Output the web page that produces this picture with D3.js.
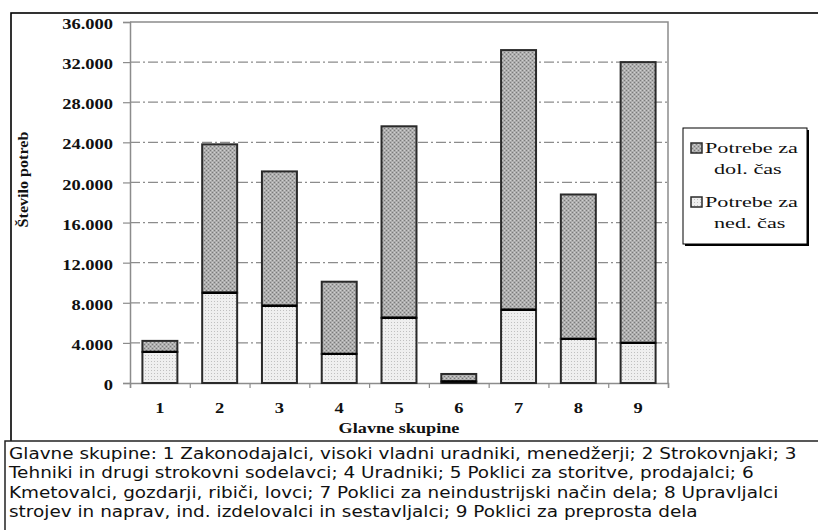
<!DOCTYPE html>
<html>
<head>
<meta charset="utf-8">
<script src="https://cdn.jsdelivr.net/npm/d3@7"></script>
<style>
  html, body { margin: 0; padding: 0; background: #fff; }
  svg { display: block; }
  .serif { font-family: "Liberation Serif", "Times New Roman", Times, serif; }
  .sans { font-family: "DejaVu Sans", Verdana, sans-serif; }
</style>
</head>
<body>
<svg id="chart" width="818" height="530"></svg>
<script>
// ---------- data ----------
const categories = ["1", "2", "3", "4", "5", "6", "7", "8", "9"];
const partTime = [3100, 9000, 7700, 2900, 6500, 150, 7300, 4400, 4000];      // Potrebe za ned. čas
const fullTime = [1100, 14800, 13400, 7200, 19100, 750, 25900, 14400, 28000]; // Potrebe za dol. čas
const yTicks = [0, 4000, 8000, 12000, 16000, 20000, 24000, 28000, 32000, 36000];
const yTickLabels = ["0", "4.000", "8.000", "12.000", "16.000", "20.000", "24.000", "28.000", "32.000", "36.000"];
const seriesNames = [["Potrebe za", "dol. čas"], ["Potrebe za", "ned. čas"]];
const xTitle = "Glavne skupine";
const yTitle = "Število potreb";
const noteLines = [
  "Glavne skupine: 1 Zakonodajalci, visoki vladni uradniki, menedžerji; 2 Strokovnjaki; 3",
  "Tehniki in drugi strokovni sodelavci; 4 Uradniki; 5 Poklici za storitve, prodajalci; 6",
  "Kmetovalci, gozdarji, ribiči, lovci; 7 Poklici za neindustrijski način dela; 8 Upravljalci",
  "strojev in naprav, ind. izdelovalci in sestavljalci; 9 Poklici za preprosta dela"
];

// ---------- layout ----------
const svg = d3.select("#chart");
const plot = { left: 130, right: 668, top: 22, bottom: 383 };

function stretchX(node, k) {
  const x = +node.getAttribute("x") || 0;
  node.setAttribute("transform", `translate(${x},0) scale(${k},1) translate(${-x},0)`);
}

// patterns
const defs = svg.append("defs");
const pd = defs.append("pattern").attr("id", "pDark").attr("patternUnits", "userSpaceOnUse")
  .attr("width", 4).attr("height", 4);
pd.append("rect").attr("width", 4).attr("height", 4).attr("fill", "#adadad");
[[0,0],[2,2]].forEach(([x,y]) => pd.append("rect").attr("x", x).attr("y", y).attr("width", 1).attr("height", 1).attr("fill", "#7a7a7a"));
[[2,0],[0,2]].forEach(([x,y]) => pd.append("rect").attr("x", x).attr("y", y).attr("width", 1).attr("height", 1).attr("fill", "#cfcfcf"));
const pl = defs.append("pattern").attr("id", "pLight").attr("patternUnits", "userSpaceOnUse")
  .attr("width", 3).attr("height", 3);
pl.append("rect").attr("width", 3).attr("height", 3).attr("fill", "#efefef");
pl.append("rect").attr("x", 1).attr("y", 1).attr("width", 1).attr("height", 1).attr("fill", "#c0c0c0");

// outer frame
svg.append("rect").attr("x", 11).attr("y", 13).attr("width", 830).attr("height", 440)
  .attr("fill", "#fff").attr("stroke", "#000").attr("stroke-width", 1.6);

// scales
const x = d3.scaleBand().domain(categories).range([plot.left, plot.right]).paddingInner(0.415).paddingOuter(0.2075);
const xLin = d3.scaleLinear().domain([0, categories.length]).range([plot.left, plot.right]);
const y = d3.scaleLinear().domain([0, 36000]).range([plot.bottom, plot.top]);

// gridlines
svg.append("g").selectAll("line").data(yTicks.filter(t => t > 0 && t < 36000)).join("line")
  .attr("x1", plot.left).attr("x2", plot.right)
  .attr("y1", d => y(d)).attr("y2", d => y(d))
  .attr("stroke", "#8c8c8c").attr("stroke-width", 1.2).attr("stroke-dasharray", "10,3,2,3");

// plot border (top, right)
svg.append("path")
  .attr("d", `M${plot.left},${plot.top}H${plot.right}V${plot.bottom}`)
  .attr("fill", "none").attr("stroke", "#8c8c8c").attr("stroke-width", 1.5);

// y axis
const yAxis = svg.append("g").attr("transform", `translate(${plot.left},0)`)
  .call(d3.axisLeft(y).tickValues(yTicks).tickSize(7).tickPadding(10)
    .tickFormat((d, i) => yTickLabels[i]));
yAxis.attr("font-family", null).attr("font-size", null);
yAxis.select(".domain").attr("stroke", "#8c8c8c").attr("stroke-width", 1.5);
yAxis.selectAll(".tick line").attr("stroke", "#8c8c8c").attr("stroke-width", 1.2);
yAxis.selectAll(".tick text")
  .attr("class", "serif")
  .style("font-weight", "bold").style("font-size", "14px")
  .attr("fill", "#111").attr("dy", "0.47em")
  .each(function () { stretchX(this, 1.32); });

// x axis: boundary ticks
const xAxis = svg.append("g").attr("transform", `translate(0,${plot.bottom})`)
  .call(d3.axisBottom(xLin).tickValues(d3.range(0, categories.length + 1)).tickSize(5).tickFormat(""));
xAxis.select(".domain").attr("stroke", "#8c8c8c").attr("stroke-width", 1.5);
xAxis.selectAll(".tick line").attr("stroke", "#8c8c8c").attr("stroke-width", 1.2);

// x labels
const xLab = svg.append("g").attr("transform", `translate(0,${plot.bottom})`)
  .call(d3.axisBottom(x).tickSize(0).tickPadding(30));
xLab.attr("font-family", null).attr("font-size", null);
xLab.select(".domain").remove();
xLab.selectAll(".tick text")
  .attr("class", "serif")
  .style("font-weight", "bold").style("font-size", "14px")
  .attr("fill", "#111").attr("dy", 0)
  .attr("transform", "scale(1.32,1)");

// bars
const bars = svg.append("g");
categories.forEach((c, i) => {
  const x0 = x(c), w = x.bandwidth();
  bars.append("rect").attr("x", x0).attr("width", w)
    .attr("y", y(partTime[i])).attr("height", y(0) - y(partTime[i]))
    .attr("fill", "url(#pLight)").attr("stroke", "#2a2a2a").attr("stroke-width", 2);
  bars.append("rect").attr("x", x0).attr("width", w)
    .attr("y", y(partTime[i] + fullTime[i])).attr("height", y(partTime[i]) - y(partTime[i] + fullTime[i]))
    .attr("fill", "url(#pDark)").attr("stroke", "#2a2a2a").attr("stroke-width", 2);
  bars.append("line").attr("x1", x0).attr("x2", x0 + w)
    .attr("y1", y(partTime[i])).attr("y2", y(partTime[i]))
    .attr("stroke", "#000").attr("stroke-width", 2.4);
});

// axis titles
const cx = (plot.left + plot.right) / 2;
const xt = svg.append("text").attr("class", "serif").attr("x", cx).attr("y", 433)
  .attr("text-anchor", "middle").style("font-weight", "bold")
  .style("font-size", "14px").attr("fill", "#111").text(xTitle);
stretchX(xt.node(), 1.3);

svg.append("text").attr("class", "serif")
  .attr("transform", `translate(28,${(131 + 228) / 2}) rotate(-90) scale(1.15,1)`)
  .attr("text-anchor", "middle").style("font-weight", "bold")
  .style("font-size", "14px").attr("fill", "#111").text(yTitle);

// legend
const lg = svg.append("g");
lg.append("rect").attr("x", 685).attr("y", 130).attr("width", 124).attr("height", 116).attr("fill", "#000");
lg.append("rect").attr("x", 683).attr("y", 128).attr("width", 124).attr("height", 116)
  .attr("fill", "#fff").attr("stroke", "#000").attr("stroke-width", 1);
const legendFills = ["url(#pDark)", "url(#pLight)"];
const legendTop = [143, 197];
seriesNames.forEach((lines, i) => {
  lg.append("rect").attr("x", 691).attr("y", legendTop[i]).attr("width", 11).attr("height", 10)
    .attr("fill", legendFills[i]).attr("stroke", "#2a2a2a").attr("stroke-width", 1.5);
  const t1 = lg.append("text").attr("class", "serif").attr("x", 705).attr("y", legendTop[i] + 10)
    .style("font-size", "15px").attr("fill", "#111").text(lines[0]);
  const k = 93 / t1.node().getComputedTextLength();
  stretchX(t1.node(), k);
  const t2 = lg.append("text").attr("class", "serif").attr("x", 714).attr("y", legendTop[i] + 31)
    .style("font-size", "15px").attr("fill", "#111").text(lines[1]);
  stretchX(t2.node(), k);
});

// note box
svg.append("rect").attr("x", 5).attr("y", 441).attr("width", 840).attr("height", 120)
  .attr("fill", "#fff").attr("stroke", "#222").attr("stroke-width", 1.5);
const nt = svg.append("g").selectAll("text").data(noteLines).join("text")
  .attr("class", "sans")
  .attr("x", 9).attr("y", (d, i) => 459 + i * 19.5)
  .style("font-size", "15px")
  .attr("fill", "#111").text(d => d);
const kNote = 788 / nt.nodes()[0].getComputedTextLength();
nt.each(function () { stretchX(this, kNote); });
</script>
</body>
</html>
